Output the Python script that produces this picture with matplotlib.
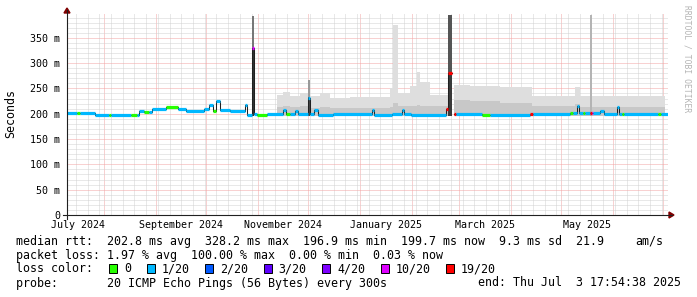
import numpy as np
import pandas as pd
import matplotlib
matplotlib.use("Agg")
import matplotlib.pyplot as plt
import matplotlib.dates as mdates
from matplotlib.ticker import MultipleLocator, FuncFormatter
from matplotlib.patches import Rectangle, Polygon
from matplotlib.lines import Line2D
from matplotlib.transforms import blended_transform_factory

W, H = 697, 297          # размер картинки в пикселях
nan = np.nan

# --- данные ---
t_end = pd.Timestamp("2025-07-03 17:54:38")
t_start = t_end - pd.Timedelta(days=359)

loss_labels = ["0", "1/20", "2/20", "3/20", "4/20", "10/20", "19/20"]
loss_colors = ["#26ff00", "#00b8ff", "#0059ff", "#5e00ff", "#7e00ff", "#dd00ff", "#ff0000"]

# медиана rtt (мс): начало ступени, значение, индекс уровня потерь
med_t = ["2024-07-09 18:00", "2024-07-16 00:00", "2024-07-17 12:00", "2024-07-26 12:00",
         "2024-08-03 20:00", "2024-08-05 00:00", "2024-08-17 00:00", "2024-08-20 12:00",
         "2024-08-21 20:00", "2024-08-25 00:00", "2024-08-28 00:00", "2024-08-29 14:00",
         "2024-09-07 00:00", "2024-09-14 00:00", "2024-09-19 00:00", "2024-09-29 16:00",
         "2024-10-02 16:00", "2024-10-05 00:00", "2024-10-06 22:00", "2024-10-09 05:00",
         "2024-10-15 00:00", "2024-10-24 00:00", "2024-10-25 08:00", "2024-10-28 10:00",
         "2024-10-29 12:00", "2024-10-31 08:00", "2024-11-06 08:00", "2024-11-15 20:00",
         "2024-11-17 14:00", "2024-11-20 00:00", "2024-11-23 00:00", "2024-11-24 20:00",
         "2024-11-30 20:00", "2024-12-02 00:00", "2024-12-04 10:00", "2024-12-06 20:00",
         "2024-12-15 16:00", "2025-01-08 00:00", "2025-01-09 05:00", "2025-01-20 00:00",
         "2025-01-26 00:00", "2025-01-27 05:00", "2025-01-31 00:00", "2025-02-21 08:00",
         "2025-02-22 12:00", "2025-02-24 22:00", "2025-02-26 02:00", "2025-02-27 08:00",
         "2025-03-14 20:00", "2025-03-19 14:00", "2025-04-12 12:00", "2025-04-14 08:00",
         "2025-05-06 10:00", "2025-05-08 05:00", "2025-05-10 14:00", "2025-05-11 20:00",
         "2025-05-14 05:00", "2025-05-15 10:00", "2025-05-18 10:00", "2025-05-19 10:00",
         "2025-05-20 05:00", "2025-05-24 10:00", "2025-05-26 16:00", "2025-06-03 12:00",
         "2025-06-04 16:00", "2025-06-06 12:00", "2025-06-07 16:00", "2025-06-28 00:00",
         "2025-06-29 20:00"]
med_v = [201.5, 201.5, 201, 197.5,
         197.5, 197.5, 198, 198,
         205, 203, 203, 210,
         214, 210, 206, 210,
         218, 206, 226, 208,
         205, 218, 198, 330,
         200, 197, 199, 208,
         200, 200, 205, 199,
         232, 200, 208, 197,
         200, 207, 197, 200,
         207, 200, 198, 210,
         280, nan, 200, 200,
         198, 198, 199, 199,
         201, 201, 215, 201,
         201, 201, 201, 201,
         202, 206, 200, 214,
         199, 199, 200, 200,
         200]
med_loss = [1, 0, 1, 1,
            0, 1, 0, 1,
            1, 0, 1, 1,
            0, 1, 1, 1,
            1, 0, 1, 1,
            1, 1, 1, 5,
            1, 0, 1, 1,
            0, 1, 1, 1,
            1, 1, 1, 1,
            1, 1, 1, 1,
            1, 1, 1, 6,
            6, 1, 6, 1,
            0, 1, 6, 1,
            0, 1, 1, 1,
            0, 1, 6, 5,
            1, 1, 1, 1,
            1, 0, 1, 0,
            1]

# дым (разброс пингов), мс: начало ступени, верх светлой и тёмной части
smoke_t = ["2024-07-09 18:00", "2024-11-12 05:00", "2024-11-15 20:00", "2024-11-20 00:00",
           "2024-11-26 00:00", "2024-12-02 00:00", "2024-12-08 00:00", "2024-12-14 00:00",
           "2024-12-26 00:00", "2025-01-18 20:00", "2025-01-20 14:00", "2025-01-23 14:00",
           "2025-01-30 20:00", "2025-02-03 22:00", "2025-02-05 16:00", "2025-02-11 16:00",
           "2025-02-24 22:00", "2025-02-26 02:00", "2025-03-07 14:00", "2025-03-25 14:00",
           "2025-04-13 16:00", "2025-05-09 10:00", "2025-05-12 10:00", "2025-07-02 05:00"]
smoke_hi = [nan, 238, 243, 235, 240, 236, 240, 232, 234, 250, 376, 240,
            255, 283, 262, 238, nan, 256, 254, 253, 236, 252, 236, nan]
smoke_mid = [nan, 214, 216, 213, 215, 212, 214, 212, 212, 214, 222, 215,
             216, 218, 216, 215, nan, 228, 226, 222, 215, 220, 214, nan]
smoke_floor = 196

# всплески: начало, конец, верх, верх плотной части
spike_t0 = ["2024-10-28 10:00", "2024-11-30 20:00", "2025-02-22 12:00", "2025-05-18 10:00"]
spike_t1 = ["2024-10-29 12:00", "2024-12-02 00:00", "2025-02-24 22:00", "2025-05-19 14:00"]
spike_top = [394, 267, 396, 396]
spike_core = [330, 234, 280, 396]

label_months = ["2024-07", "2024-09", "2024-11", "2025-01", "2025-03", "2025-05"]

stats_rtt = "median rtt:  202.8 ms avg  328.2 ms max  196.9 ms min  199.7 ms now  9.3 ms sd  21.9"
stats_rtt_unit = "am/s"
stats_loss = "packet loss: 1.97 % avg  100.00 % max  0.00 % min  0.03 % now"
probe_text = "probe:       20 ICMP Echo Pings (56 Bytes) every 300s"
end_text = "end: Thu Jul  3 17:54:38 2025"

# --- стиль ---
mono = "DejaVu Sans Mono"
spike_outer_col = ["#777777", "#999999", "#555555", "#b4b4b4"]
spike_core_col = ["#333333", "#444444", "#3a3a3a", "#b4b4b4"]


def fx(x):
    return x / W


def fy(y):
    return 1 - y / H


def num(ts):
    return mdates.date2num(pd.to_datetime(ts))


def steps(t, v):
    # ступеньки вручную, чтобы NaN не съедал последний отрезок
    t = np.asarray(t)
    v = np.asarray(v, dtype=float)
    return np.repeat(t, 2)[1:-1], np.repeat(v, 2)


fig = plt.figure(figsize=(W / 100, H / 100), dpi=100)
fig.patch.set_facecolor("white")
ax = fig.add_axes([fx(67), fy(215), (668 - 67) / W, (215 - 13) / H])
for s in ax.spines.values():
    s.set_visible(False)

# дым
ts = num(smoke_t + [t_end])
sx, shi = steps(ts, smoke_hi)
_, smid = steps(ts, smoke_mid)
ax.fill_between(sx, smoke_floor, shi, color="#dedede", lw=0, zorder=1)
ax.fill_between(sx, smoke_floor, smid, color="#c8c8c8", lw=0, zorder=1.1)

for i in range(len(spike_t0)):
    xs = num([spike_t0[i], spike_t1[i]])
    ax.fill_between(xs, smoke_floor, spike_top[i], color=spike_outer_col[i], lw=0, zorder=1.2)
    ax.fill_between(xs, smoke_floor, spike_core[i], color=spike_core_col[i], lw=0, zorder=1.3)

# медиана
tm = num(med_t + [t_end])
mx, my = steps(tm, med_v)
ax.plot(mx, my, color="#202020", lw=0.75, zorder=2)
for i in range(len(med_v)):
    if np.isnan(med_v[i]):
        continue
    ax.hlines(med_v[i], tm[i], tm[i + 1], colors=loss_colors[med_loss[i]], lw=2.3, zorder=3)

ax.set_xlim(num(t_start), num(t_end))
ax.set_ylim(0, 399)

# сетка
ax.xaxis.set_major_locator(mdates.MonthLocator())
ax.xaxis.set_minor_locator(mdates.WeekdayLocator(byweekday=mdates.MO))
ax.yaxis.set_major_locator(MultipleLocator(50))
ax.yaxis.set_minor_locator(MultipleLocator(10))
ax.grid(which="minor", color="#d2d2d2", lw=0.72, ls=(0, (1, 1)))
ax.grid(which="major", color="#f3a5a5", lw=0.72, ls=(0, (1, 1)))
ax.set_axisbelow(True)
ax.tick_params(which="both", length=0, labelbottom=False)
ax.yaxis.set_major_formatter(FuncFormatter(lambda v, _: "0" if v == 0 else f"{v:.0f} m"))
ax.tick_params(axis="y", pad=5, labelsize=7.2)
for lab in ax.get_yticklabels():
    lab.set_family(mono)

# подписи месяцев по центру месяца
tr = blended_transform_factory(ax.transData, fig.transFigure)
for m in label_months:
    a = pd.Timestamp(m + "-01")
    b = a + pd.offsets.MonthBegin(1)
    c = a + (b - a) / 2
    ax.text(num(c), fy(225), a.strftime("%B %Y"), transform=tr, ha="center", va="center",
            family=mono, fontsize=7.2, clip_on=False)

# оси со стрелками
fig.add_artist(Line2D([fx(63), fx(672)], [fy(215), fy(215)], color="#202020", lw=0.8))
fig.add_artist(Line2D([fx(67), fx(67)], [fy(219), fy(10)], color="#202020", lw=0.8))
fig.add_artist(Polygon([[fx(669), fy(212)], [fx(674), fy(215)], [fx(669), fy(218)]],
                       closed=True, color="#800000", transform=fig.transFigure))
fig.add_artist(Polygon([[fx(64), fy(13)], [fx(67), fy(8)], [fx(70), fy(13)]],
                       closed=True, color="#800000", transform=fig.transFigure))

fig.text(fx(11), fy(114), "Seconds", rotation=90, ha="center", va="center",
         family=mono, fontsize=8.4)
fig.text(fx(687), fy(5), "RRDTOOL / TOBI OETIKER", rotation=270, ha="center", va="top",
         family=mono, fontsize=5.8, color="#b4b4b4")

# легенда
fig.text(fx(16), fy(241), stats_rtt, ha="left", va="center", family=mono, fontsize=8.4)
fig.text(fx(635), fy(241), stats_rtt_unit, ha="left", va="center", family=mono, fontsize=8.4)
fig.text(fx(16), fy(255), stats_loss, ha="left", va="center", family=mono, fontsize=8.4)
fig.text(fx(16), fy(269), "loss color:", ha="left", va="center", family=mono, fontsize=8.4)
x = 109
for lab, col in zip(loss_labels, loss_colors):
    fig.add_artist(Rectangle((fx(x), fy(273)), 8 / W, 9 / H, facecolor=col, edgecolor="black",
                             lw=0.7, transform=fig.transFigure))
    fig.text(fx(x + 15), fy(269), lab, ha="left", va="center", family=mono, fontsize=8.4)
    x += 14 + 7 * len(lab) + 16.5
fig.text(fx(16), fy(283), probe_text, ha="left", va="center", family=mono, fontsize=8.4)
fig.text(fx(681), fy(283), end_text, ha="right", va="center", family=mono, fontsize=8.4)

fig.savefig("out.png", dpi=100, facecolor="white")
